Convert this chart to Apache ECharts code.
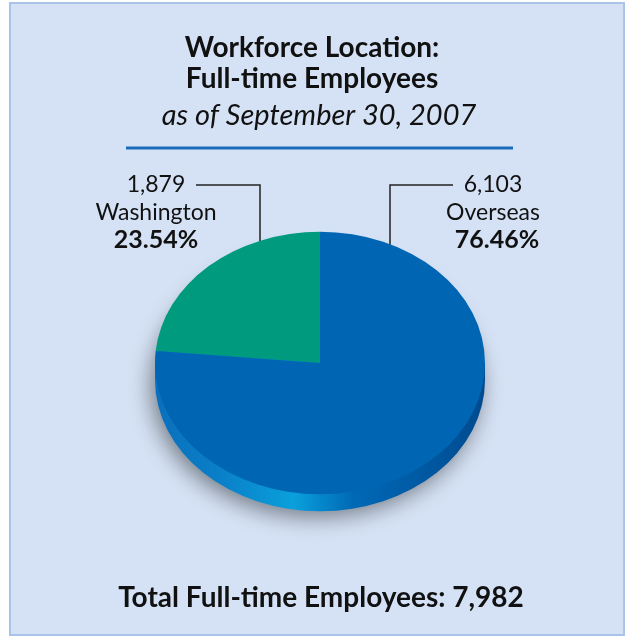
<!DOCTYPE html>
<html>
<head>
<meta charset="utf-8">
<script src="https://cdn.jsdelivr.net/npm/echarts@6/dist/echarts.min.js"></script>
<style>
  html, body { margin: 0; padding: 0; background: #ffffff; }
  #main { width: 634px; height: 639px; }
</style>
</head>
<body>
<div id="main"></div>
<script>
// 数据
var locations = ['Washington', 'Overseas'];
var employees = [1879, 6103];
var sliceColors = ['#009a7e', '#0066b4'];

var total = employees.reduce(function(a, b) { return a + b; }, 0);
function fmt(n) { return n.toLocaleString('en-US'); }
function pct(n) { return (n / total * 100).toFixed(2) + '%'; }

var cx = 320, cy = 363, r = 165, squash = 0.795, depth = 17 / 0.795;
var font = 'Lato, "Open Sans", sans-serif';

function label(x, y, txt, f) {
  return { type: 'text', x: x, y: y, style: {
    text: txt, font: f, fill: '#111', align: 'center', verticalAlign: 'middle' } };
}

var chart = echarts.init(document.getElementById('main'));

var option = {
  backgroundColor: '#ffffff',
  animation: false,
  graphic: [
    { type: 'rect', z: -10, shape: { x: 10, y: 3, width: 614, height: 632 },
      style: { fill: '#d5e2f5', stroke: '#a8c4e6', lineWidth: 2 } },
    // 标题
    label(312, 48, 'Workforce Location:', 'bold 28px ' + font),
    label(312, 79, 'Full-time Employees', 'bold 28px ' + font),
    label(319, 116, 'as of September 30, 2007', 'italic 29px ' + font),
    { type: 'line', shape: { x1: 126, y1: 148, x2: 513, y2: 148 },
      style: { stroke: '#1a6cb8', lineWidth: 3 } },
    // 华盛顿标签
    { type: 'polyline', shape: { points: [[196, 185], [260, 185], [260, 254]] },
      style: { stroke: '#222', lineWidth: 1.5, fill: null } },
    label(156, 185, fmt(employees[0]), '23px ' + font),
    label(156, 213, locations[0], '23px ' + font),
    label(156, 240, pct(employees[0]), 'bold 25px ' + font),
    // 海外标签
    { type: 'polyline', shape: { points: [[390, 257], [390, 185], [453, 185]] },
      style: { stroke: '#222', lineWidth: 1.5, fill: null } },
    label(493, 185, fmt(employees[1]), '23px ' + font),
    label(493, 213, locations[1], '23px ' + font),
    label(497, 240, pct(employees[1]), 'bold 25px ' + font),
    // 合计
    label(321, 598, 'Total Full-time Employees: ' + fmt(total), 'bold 28px ' + font)
  ],
  series: [{
    type: 'custom',
    coordinateSystem: 'none',
    data: employees,
    renderItem: function(params, api) {
      var idx = params.dataIndex;
      var before = 0;
      for (var i = 0; i < idx; i++) before += employees[i];
      var val = api.value(0);
      // 从12点方向逆时针排列
      var end = -Math.PI / 2 - before / total * Math.PI * 2;
      var start = end - val / total * Math.PI * 2;
      var children = [];
      if (idx === 0) {
        var sideFill = new echarts.graphic.LinearGradient(0, 0, 1, 0, [
          { offset: 0, color: '#0a6fbd' },
          { offset: 0.2, color: '#0a80c8' },
          { offset: 0.42, color: '#0aa0dc' },
          { offset: 0.6, color: '#0069b6' },
          { offset: 0.85, color: '#00569f' },
          { offset: 1, color: '#004a8e' }
        ]);
        children.push({
          type: 'circle', z2: 0,
          shape: { cx: 0, cy: depth, r: r },
          style: { fill: sideFill, shadowBlur: 22, shadowColor: 'rgba(0,0,0,0.45)',
                   shadowOffsetX: -4, shadowOffsetY: 6 }
        });
        children.push({
          type: 'rect', z2: 1,
          shape: { x: -r, y: 0, width: 2 * r, height: depth },
          style: { fill: sideFill }
        });
      }
      children.push({
        type: 'sector', z2: 10,
        shape: { cx: 0, cy: 0, r: r, r0: 0, startAngle: start, endAngle: end, clockwise: true },
        style: { fill: sliceColors[idx] }
      });
      return {
        type: 'group', x: cx, y: cy, scaleY: squash,
        children: children
      };
    }
  }]
};

chart.setOption(option);
</script>
</body>
</html>
